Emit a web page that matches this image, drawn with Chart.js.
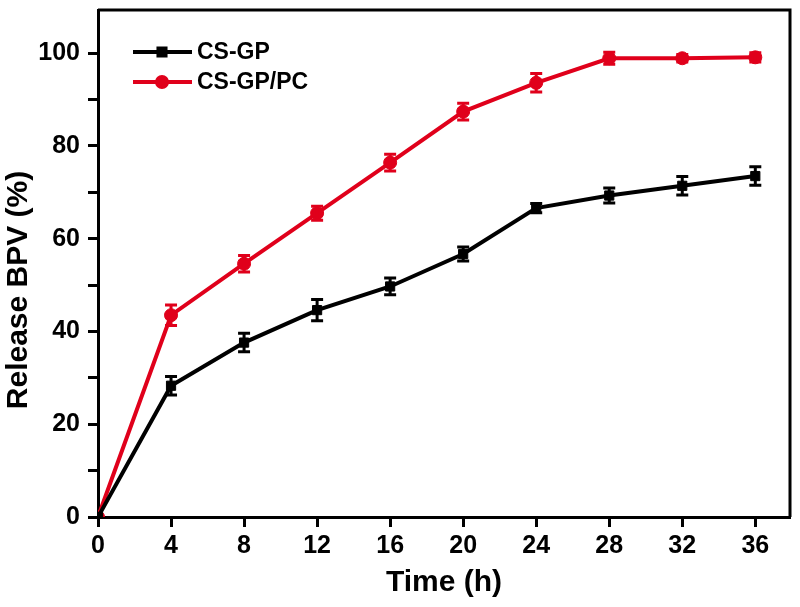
<!DOCTYPE html>
<html>
<head>
<meta charset="utf-8">
<script src="https://cdn.jsdelivr.net/npm/chart.js@4/dist/chart.umd.min.js"></script>
<style>
  html, body { margin: 0; padding: 0; background: #fff; }
  #wrap { width: 800px; height: 607px; }
</style>
</head>
<body>
<div id="wrap"><canvas id="c" width="800" height="607"></canvas></div>
<script>
// release data
const hours = [0, 4, 8, 12, 16, 20, 24, 28, 32, 36];
const csgp = [0, 28.3, 37.6, 44.6, 49.7, 56.7, 66.6, 69.3, 71.4, 73.5];
const csgpErr = [0, 2.0, 2.0, 2.3, 1.8, 1.5, 1.0, 1.6, 2.0, 2.0];
const csgppc = [0, 43.5, 54.6, 65.5, 76.4, 87.4, 93.6, 98.9, 98.9, 99.1];
const csgppcErr = [0, 2.2, 1.8, 1.5, 1.8, 1.8, 2.0, 1.3, 0.8, 1.0];
const seriesNames = ['CS-GP', 'CS-GP/PC'];
const yTitle = 'Release BPV (%)';
const xTitle = 'Time (h)';

const BLACK = '#000000';
const RED = '#e0001b';
const FONT = '"Liberation Sans", Arial, sans-serif';

function toPoints(ys) {
    return hours.map((h, i) => ({ x: h, y: ys[i] }));
}

// error bars, drawn through the chart's scales
const errorBars = {
    id: 'errorBars',
    afterDatasetsDraw(chart) {
        const ctx = chart.ctx;
        const xs = chart.scales.x, ys = chart.scales.y;
        const errs = [csgpErr, csgppcErr];
        chart.data.datasets.forEach((ds, d) => {
            ctx.save();
            ctx.strokeStyle = ds.borderColor;
            ctx.lineWidth = 3;
            ds.data.forEach((p, i) => {
                const e = errs[d][i];
                if (!e) return;
                const px = xs.getPixelForValue(p.x);
                const top = ys.getPixelForValue(p.y + e);
                const bot = ys.getPixelForValue(p.y - e);
                ctx.beginPath();
                ctx.moveTo(px, top); ctx.lineTo(px, bot);
                ctx.moveTo(px - 6, top); ctx.lineTo(px + 6, top);
                ctx.moveTo(px - 6, bot); ctx.lineTo(px + 6, bot);
                ctx.stroke();
            });
            ctx.restore();
        });
    }
};

// closing box, y title and legend inside the plot
const frameAndLegend = {
    id: 'frameAndLegend',
    afterDraw(chart) {
        const ctx = chart.ctx;
        const a = chart.chartArea;
        ctx.save();
        ctx.strokeStyle = '#000';
        ctx.lineWidth = 3;
        ctx.beginPath();
        ctx.moveTo(a.left, a.top); ctx.lineTo(a.right, a.top); ctx.lineTo(a.right, a.bottom);
        ctx.stroke();

        // y title sits a bit below the middle of the axis in the original
        ctx.save();
        ctx.translate(19, 290);
        ctx.rotate(-Math.PI / 2);
        ctx.fillStyle = '#000';
        ctx.font = 'bold 30px ' + FONT;
        ctx.textAlign = 'center';
        ctx.textBaseline = 'middle';
        ctx.fillText(yTitle, 0, 0);
        ctx.restore();

        const rows = [
            { y: 52, color: BLACK, style: 'rect' },
            { y: 82, color: RED, style: 'circle' }
        ];
        rows.forEach((r, i) => {
            ctx.strokeStyle = r.color;
            ctx.fillStyle = r.color;
            ctx.lineWidth = 4;
            ctx.beginPath();
            ctx.moveTo(133, r.y); ctx.lineTo(192, r.y);
            ctx.stroke();
            Chart.helpers.drawPoint(ctx, { pointStyle: r.style, radius: 5, borderWidth: 1 }, 162, r.y);
            ctx.fillStyle = '#000';
            ctx.font = 'bold 23px ' + FONT;
            ctx.textBaseline = 'middle';
            ctx.textAlign = 'left';
            ctx.fillText(seriesNames[i], 197, r.y + 1);
        });
        ctx.restore();
    }
};

new Chart(document.getElementById('c'), {
    type: 'line',
    data: {
        datasets: [
            {
                label: seriesNames[0],
                data: toPoints(csgp),
                borderColor: BLACK,
                backgroundColor: BLACK,
                borderWidth: 4,
                pointStyle: 'rect',
                pointRadius: 6.5,
                pointBorderWidth: 1,
                tension: 0
            },
            {
                label: seriesNames[1],
                data: toPoints(csgppc),
                borderColor: RED,
                backgroundColor: RED,
                borderWidth: 4,
                pointStyle: 'circle',
                pointRadius: 6.5,
                pointBorderWidth: 1,
                tension: 0
            }
        ]
    },
    options: {
        responsive: false,
        animation: false,
        layout: { padding: { left: 0, top: 10, right: 10, bottom: 0 } },
        plugins: {
            legend: { display: false },
            tooltip: { enabled: false }
        },
        scales: {
            x: {
                type: 'linear',
                min: 0,
                max: 37.9,
                afterFit(s) { s.height = 90; s.paddingLeft = 0; s.paddingRight = 0; },
                border: { display: true, color: '#000', width: 3 },
                grid: { drawOnChartArea: false, drawTicks: true, tickLength: 10, tickWidth: 3, tickColor: '#000' },
                ticks: {
                    stepSize: 4,
                    includeBounds: false,
                    color: '#000',
                    padding: 4,
                    maxRotation: 0,
                    font: { family: FONT, size: 25, weight: 'bold' }
                },
                title: {
                    display: true,
                    text: xTitle,
                    color: '#000',
                    padding: { top: 0, bottom: 6 },
                    font: { family: FONT, size: 30, weight: 'bold' }
                }
            },
            y: {
                min: 0,
                max: 109.3,
                afterFit(s) { s.width = 98; s.paddingTop = 0; s.paddingBottom = 0; },
                border: { display: true, color: '#000', width: 3 },
                grid: { drawOnChartArea: false, drawTicks: true, tickLength: 10, tickWidth: 3, tickColor: '#000' },
                ticks: {
                    stepSize: 10,
                    includeBounds: false,
                    color: '#000',
                    padding: 8,
                    font: { family: FONT, size: 25, weight: 'bold' },
                    callback: v => (v % 20 === 0 ? v : '')
                },
                title: { display: false }
            }
        }
    },
    plugins: [errorBars, frameAndLegend]
});
</script>
</body>
</html>
